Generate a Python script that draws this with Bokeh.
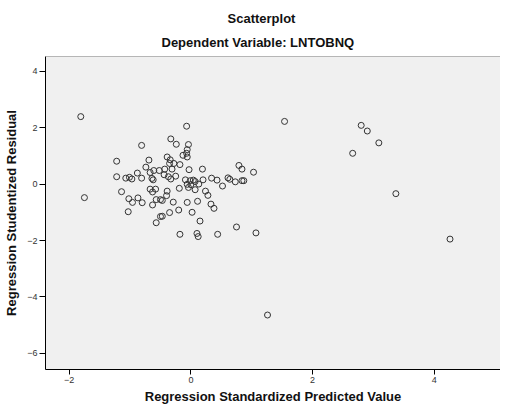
from bokeh.plotting import figure
from bokeh.models import Range1d, Title, FixedTicker, Span
from bokeh.embed import file_html
from bokeh.resources import INLINE

# Regression Standardized Predicted Value
x_pred = [-1.81, -0.07, -0.81, -0.33, -0.24, -0.04, -0.06, -0.07, -0.13, -0.06,
          -1.22, -0.69, -0.39, -0.34, -0.35, -0.28, -0.18, -0.74, -0.61, -0.67,
          -0.52, -0.43, -0.31, -0.03, 0.19, 0.79, 0.84, 1.03, -0.88, -1.22,
          -1.07, -1.01, -0.97, -0.81, -0.64, -0.62, -0.44, -0.37, -0.33, -0.25,
          -0.09, -0.01, 0.04, 0.07, 0.20, 0.34, 0.43, 0.61, 0.64, 0.73,
          0.84, 0.87, 0.52, -0.06, 0.00, -0.04, 0.07, 0.13, -0.19, -0.67,
          -0.58, -0.63, -0.39, -1.14, -1.75, -0.40, 0.24, 0.28, -1.02, -0.96,
          -0.87, -0.80, -0.57, -0.50, -0.47, -0.63, -0.29, -0.06, 0.11, 0.33,
          0.38, -1.03, -0.20, -0.35, 0.02, -0.50, -0.47, -0.57, 0.15, -0.18,
          0.10, 0.12, 0.44, 0.75, 1.07, 1.54, 2.80, 2.90, 3.09, 2.66,
          3.37, 4.26, 1.26]

# Regression Studentized Residual
y_resid = [2.39, 2.05, 1.37, 1.60, 1.41, 1.40, 1.22, 1.09, 1.02, 0.96,
           0.81, 0.85, 0.96, 0.86, 0.73, 0.73, 0.69, 0.60, 0.48, 0.41,
           0.48, 0.53, 0.53, 0.51, 0.53, 0.66, 0.53, 0.42, 0.39, 0.26,
           0.21, 0.24, 0.18, 0.21, 0.20, 0.15, 0.33, 0.26, 0.18, 0.28,
           0.15, 0.12, 0.14, 0.09, 0.15, 0.21, 0.14, 0.22, 0.17, 0.08,
           0.12, 0.12, -0.07, -0.01, -0.02, -0.12, -0.20, 0.00, -0.15, -0.18,
           -0.18, -0.28, -0.25, -0.27, -0.48, -0.41, -0.25, -0.40, -0.52, -0.65,
           -0.49, -0.66, -0.55, -0.55, -0.58, -0.74, -0.64, -0.65, -0.61, -0.71,
           -0.86, -0.98, -0.92, -1.01, -1.00, -1.15, -1.14, -1.37, -1.31, -1.78,
           -1.75, -1.86, -1.78, -1.52, -1.73, 2.22, 2.08, 1.88, 1.46, 1.09,
           -0.34, -1.95, -4.64]

x_ticks = [-2, 0, 2, 4]
y_ticks = [-6, -4, -2, 0, 2, 4]

FONT = "Liberation Sans"

p = figure(frame_width=455, frame_height=313, output_backend="svg",
           toolbar_location=None,
           x_range=Range1d(-2.39, 5.09), y_range=Range1d(-6.57, 4.52),
           min_border_left=45, min_border_right=0, min_border_top=56,
           min_border_bottom=20)

p.border_fill_color = "white"
p.background_fill_color = "#f0f0f0"
p.outline_line_color = None
p.add_layout(Span(location=4.52, dimension="width", line_color="#777777", line_width=1))

p.add_layout(Title(text="Dependent Variable: LNTOBNQ", align="left",
                   text_font=FONT, text_font_size="13px", text_font_style="bold",
                   text_color="#111111", offset=116, standoff=13), "above")
p.add_layout(Title(text="Scatterplot", align="left",
                   text_font=FONT, text_font_size="13px", text_font_style="bold",
                   text_color="#111111", offset=182, standoff=2), "above")

p.xgrid.visible = False
p.ygrid.visible = False

for ax in (p.xaxis[0], p.yaxis[0]):
    ax.axis_line_color = "#000000"
    ax.axis_line_width = 1
    ax.major_tick_line_color = "#000000"
    ax.major_tick_in = 0
    ax.minor_tick_line_color = None
    ax.major_label_text_font = FONT
    ax.major_label_text_font_size = "9px"
    ax.major_label_text_color = "#333333"
    ax.axis_label_text_font = FONT
    ax.axis_label_text_font_size = "13px"
    ax.axis_label_text_font_style = "bold"
    ax.axis_label_text_color = "#111111"
    ax.major_label_standoff = 2

p.xaxis.major_tick_out = 5
p.yaxis.major_tick_out = 6
p.xaxis.axis_label_standoff = 3
p.yaxis.axis_label_standoff = 5

p.xaxis.ticker = FixedTicker(ticks=x_ticks)
p.yaxis.ticker = FixedTicker(ticks=y_ticks)
p.xaxis.axis_label = "Regression Standardized Predicted Value"
p.yaxis.axis_label = "Regression Studentized Residual"

p.scatter(x_pred, y_resid, marker="circle", size=6, fill_color=None,
          line_color="#333333", line_width=1)

open("out.html", "w").write(file_html(p, INLINE))
